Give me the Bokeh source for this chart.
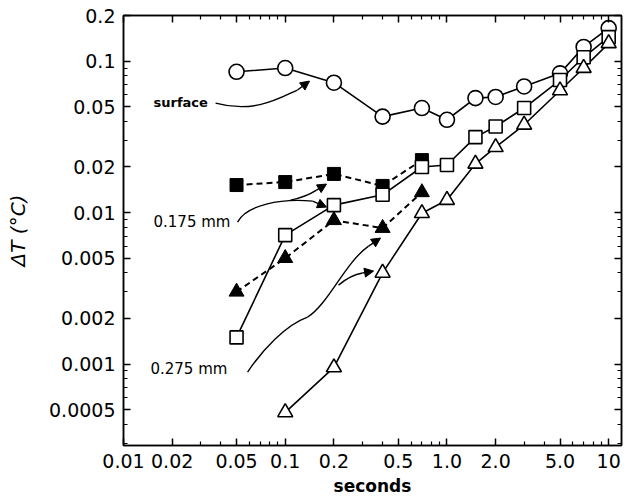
import math
from bokeh.plotting import figure
from bokeh.models import LogAxis, FixedTicker, Label, Arrow, NormalHead, Range1d
from bokeh.embed import file_html
from bokeh.resources import INLINE

# ---------------- data ----------------
t_surface = [0.05, 0.1, 0.2, 0.4, 0.7, 1.0, 1.5, 2.0, 3.0, 5.0, 7.0, 10.0]
dT_surface = [0.085, 0.09, 0.072, 0.043, 0.049, 0.041, 0.057, 0.058, 0.068, 0.083, 0.124, 0.165]

t_open_sq = [0.05, 0.1, 0.2, 0.4, 0.7, 1.0, 1.5, 2.0, 3.0, 5.0, 7.0, 10.0]
dT_open_sq = [0.0015, 0.0071, 0.0112, 0.0131, 0.020, 0.0206, 0.0315, 0.037, 0.049, 0.075, 0.106, 0.144]

t_open_tri = [0.1, 0.2, 0.4, 0.7, 1.0, 1.5, 2.0, 3.0, 5.0, 7.0, 10.0]
dT_open_tri = [0.00048, 0.00095, 0.004, 0.0099, 0.0121, 0.021, 0.027, 0.038, 0.064, 0.09, 0.131]

t_fill_sq = [0.05, 0.1, 0.2, 0.4, 0.7]
dT_fill_sq = [0.0152, 0.0159, 0.018, 0.015, 0.0222]

t_fill_tri = [0.05, 0.1, 0.2, 0.4, 0.7]
dT_fill_tri = [0.003, 0.005, 0.0089, 0.0079, 0.0136]

x_tick_values = [0.01, 0.02, 0.05, 0.1, 0.2, 0.5, 1.0, 2.0, 5.0, 10.0]
x_tick_labels = ["0.01", "0.02", "0.05", "0.1", "0.2", "0.5", "1.0", "2.0", "5.0", "10"]
y_tick_values = [0.0005, 0.001, 0.002, 0.005, 0.01, 0.02, 0.05, 0.1, 0.2]
y_tick_labels = ["0.0005", "0.001", "0.002", "0.005", "0.01", "0.02", "0.05", "0.1", "0.2"]

# ---------------- figure ----------------
FONT = "DejaVu Sans"
p = figure(width=625, height=500, x_axis_type="log", y_axis_type="log",
           x_range=Range1d(0.01, 12.0), y_range=Range1d(0.00029, 0.2),
           output_backend="svg", toolbar_location=None,
           min_border_left=123, min_border_right=4, min_border_top=15, min_border_bottom=55)
p.grid.visible = False
p.outline_line_color = "black"
p.outline_line_width = 1.5
p.background_fill_color = "white"
p.border_fill_color = "white"


def minor_list(lo_exp, hi_exp, majors):
    out = []
    for e in range(lo_exp, hi_exp + 1):
        for k in range(1, 10):
            v = round(k * 10 ** e, 10)
            if all(abs(v - m) > 1e-12 for m in majors):
                out.append(v)
    return out


x_minor = minor_list(-2, 1, x_tick_values)
y_minor = minor_list(-4, -1, y_tick_values)

x_over = {v: s for v, s in zip(x_tick_values, x_tick_labels)}
y_over = {v: s for v, s in zip(y_tick_values, y_tick_labels)}


def style_axis(ax, show_labels, values=None):
    ax.axis_line_color = "black"
    ax.axis_line_width = 1.5
    ax.major_tick_in = 7
    ax.major_tick_out = 0
    ax.minor_tick_in = 4
    ax.minor_tick_out = 0
    ax.major_tick_line_width = 1.5
    ax.minor_tick_line_width = 1.2
    ax.major_tick_line_color = "black"
    ax.minor_tick_line_color = "black"
    if show_labels:
        ax.major_label_text_font = FONT
        ax.major_label_text_font_size = "19px"
        ax.major_label_text_color = "black"
        ax.major_label_standoff = 8
        ax.axis_label_text_font = FONT
        ax.axis_label_text_color = "black"
    else:
        ax.major_label_overrides = {v: "" for v in values}
        ax.major_label_text_font_size = "0px"
        ax.major_label_standoff = 0


xb = p.xaxis[0]
xb.ticker = FixedTicker(ticks=x_tick_values, minor_ticks=x_minor)
xb.major_label_overrides = x_over
style_axis(xb, True)
xb.axis_label = "seconds"
xb.axis_label_text_font_size = "17px"
xb.axis_label_text_font_style = "bold"
xb.axis_label_standoff = 5

yl = p.yaxis[0]
yl.ticker = FixedTicker(ticks=y_tick_values, minor_ticks=y_minor)
yl.major_label_overrides = y_over
style_axis(yl, True)
yl.axis_label = "ΔT (°C)"
yl.axis_label_text_font_size = "20px"
yl.axis_label_text_font_style = "italic"
yl.axis_label_standoff = 16

xt = LogAxis(ticker=FixedTicker(ticks=x_tick_values, minor_ticks=x_minor))
style_axis(xt, False, x_tick_values)
p.add_layout(xt, "above")
yr = LogAxis(ticker=FixedTicker(ticks=y_tick_values, minor_ticks=y_minor))
style_axis(yr, False, y_tick_values)
p.add_layout(yr, "right")

# ---------------- series ----------------
LW = 1.6
p.line(t_surface, dT_surface, line_color="black", line_width=LW)
p.line(t_open_sq, dT_open_sq, line_color="black", line_width=LW)
p.line(t_open_tri, dT_open_tri, line_color="black", line_width=LW)
p.line(t_fill_sq, dT_fill_sq, line_color="black", line_width=2, line_dash="6 4")
p.line(t_fill_tri, dT_fill_tri, line_color="black", line_width=2, line_dash="6 4")

p.scatter(t_fill_sq, dT_fill_sq, marker="square", size=13, fill_color="black", line_color="black")
p.scatter(t_fill_tri, dT_fill_tri, marker="triangle", size=15, fill_color="black", line_color="black")
p.scatter(t_surface, dT_surface, marker="circle", size=15, fill_color="white", line_color="black", line_width=1.6)
p.scatter(t_open_sq, dT_open_sq, marker="square", size=13, fill_color="white", line_color="black", line_width=1.6)
p.scatter(t_open_tri, dT_open_tri, marker="triangle", size=15, fill_color="white", line_color="black", line_width=1.6)

# ---------------- annotations ----------------
ann_line = dict(line_color="black", line_width=1.4)

# surface
p.bezier(x0=[0.0371], y0=[0.0528], x1=[0.119], y1=[0.0644],
         cx0=[0.0655], cy0=[0.0447], cx1=[0.095], cy1=[0.058], **ann_line)
# 0.175 mm
p.bezier(x0=[0.0507], y0=[0.00865], x1=[0.1475], y1=[0.01191],
         cx0=[0.0576], cy0=[0.01121], cx1=[0.0935], cy1=[0.01246], **ann_line)
p.quadratic(x0=[0.1078], y0=[0.01209], x1=[0.1562], y1=[0.01407],
            cx=[0.1335], cy=[0.01265], **ann_line)
# 0.275 mm
p.bezier(x0=[0.0585], y0=[0.000886], x1=[0.1374], y1=[0.00204],
         cx0=[0.0724], cy0=[0.00124], cx1=[0.1004], cy1=[0.00181], **ann_line)
p.bezier(x0=[0.1374], y0=[0.00204], x1=[0.3275], y1=[0.00601],
         cx0=[0.1827], cy0=[0.00245], cx1=[0.236], cy1=[0.00471], **ann_line)
p.quadratic(x0=[0.2136], y0=[0.00332], x1=[0.3006], y1=[0.00399],
            cx=[0.2533], cy=[0.00387], **ann_line)

arrow_segments = [
    (0.119, 0.0644, 0.1413, 0.0738),
    (0.1475, 0.01191, 0.18, 0.01087),
    (0.1562, 0.01407, 0.18, 0.01542),
    (0.3275, 0.00601, 0.3885, 0.00679),
    (0.3006, 0.00399, 0.3517, 0.00411),
]
for xs, ys, xe, ye in arrow_segments:
    p.add_layout(Arrow(end=NormalHead(size=9, fill_color="black", line_color="black", line_width=1),
                       x_start=xs, y_start=ys, x_end=xe, y_end=ye,
                       line_color="black", line_width=1.4))

p.add_layout(Label(x=0.01533, y=0.0536, text="surface", text_font=FONT, text_font_size="13px",
                   text_font_style="bold", text_baseline="middle", text_align="left", text_color="black"))
p.add_layout(Label(x=0.01533, y=0.00865, text="0.175 mm", text_font=FONT, text_font_size="15px",
                   text_baseline="middle", text_align="left", text_color="black"))
p.add_layout(Label(x=0.01468, y=0.000927, text="0.275 mm", text_font=FONT, text_font_size="15px",
                   text_baseline="middle", text_align="left", text_color="black"))

open("out.html", "w").write(file_html(p, INLINE))
